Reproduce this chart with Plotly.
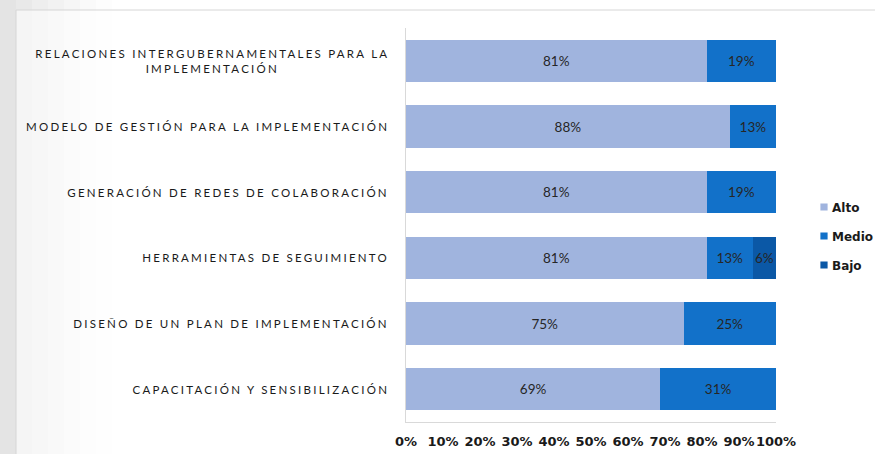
import plotly.graph_objects as go

# categories, top to bottom
categories = [
    "RELACIONES INTERGUBERNAMENTALES PARA LA<br>IMPLEMENTACIÓN",
    "MODELO DE GESTIÓN PARA LA IMPLEMENTACIÓN",
    "GENERACIÓN DE REDES DE COLABORACIÓN",
    "HERRAMIENTAS DE SEGUIMIENTO",
    "DISEÑO DE UN PLAN DE IMPLEMENTACIÓN",
    "CAPACITACIÓN Y SENSIBILIZACIÓN",
]

# percent of responses per level
alto = [81.25, 87.5, 81.25, 81.25, 75.0, 68.75]
medio = [18.75, 12.5, 18.75, 12.5, 25.0, 31.25]
bajo = [0, 0, 0, 6.25, 0, 0]

tick_vals = [0, 10, 20, 30, 40, 50, 60, 70, 80, 90, 100]
tick_text = [f"{v}%" for v in tick_vals]

series = [
    ("Alto", alto, "#A0B4DE"),
    ("Medio", medio, "#1271C9"),
    ("Bajo", bajo, "#0B58A6"),
]

# plot area in pixels (875x454 page)
L, R, T, B = 406, 776, 28, 422
W, H = R - L, B - T


def px_x(p):
    return (p - L) / W


def px_y(p):
    return 1 - (p - T) / H


fig = go.Figure()

for name, vals, color in series:
    fig.add_trace(go.Bar(
        name=name,
        y=categories,
        x=vals,
        orientation="h",
        marker=dict(color=color, line=dict(width=0)),
        text=[v if v > 0 else None for v in vals],
        texttemplate="%{x:.0f}%",
        textposition="inside",
        insidetextanchor="middle",
        textangle=0,
        textfont=dict(family="Lato", size=13.5, color="#262626"),
        constraintext="none",
        legendgroup=name,
        hoverinfo="skip",
    ))

# category labels as annotations so the wrapped line stays centred
for cat in categories:
    fig.add_annotation(
        x=px_x(391), xref="paper", y=cat, yref="y",
        xanchor="right", yanchor="middle", align="center",
        text=cat, showarrow=False,
        font=dict(family="Lato", size=11.5, color="#1a1a1a"),
    )

# slide frame: grey fade on the left, thin border at top and left
shade = ["#e4e4e4", "#e9e9e9", "#eeeeee", "#f2f2f2", "#f6f6f6", "#fafafa", "#fdfdfd"]
for i, c in enumerate(shade):
    fig.add_shape(type="rect", xref="paper", yref="paper", layer="below",
                  x0=px_x(i * 16), x1=px_x((i + 1) * 16), y0=px_y(470), y1=px_y(-5),
                  fillcolor=c, line=dict(width=0))
fig.add_shape(type="rect", xref="paper", yref="paper", layer="below",
              x0=px_x(16), x1=px_x(890), y0=px_y(470), y1=px_y(10),
              fillcolor="rgba(255,255,255,0.55)", line=dict(color="#d6d6d6", width=1))

fig.update_layout(
    width=875,
    height=454,
    margin=dict(l=L, r=875 - R, t=T, b=454 - B, autoexpand=False),
    barmode="stack",
    bargap=0.36,
    paper_bgcolor="white",
    plot_bgcolor="rgba(0,0,0,0)",
    showlegend=True,
    legend=dict(
        x=px_x(792), xanchor="left",
        y=px_y(236), yanchor="middle",
        traceorder="grouped",
        tracegroupgap=10,
        bgcolor="rgba(0,0,0,0)",
        font=dict(family="DejaVu Sans", size=12, color="#1a1a1a", weight="bold"),
        itemwidth=30,
    ),
    xaxis=dict(
        range=[0, 100],
        tickmode="array",
        tickvals=tick_vals,
        ticktext=tick_text,
        tickangle=0,
        ticklabelstandoff=7,
        showgrid=False,
        zeroline=False,
        showline=True,
        linecolor="#d9d9d9",
        ticks="",
        tickfont=dict(family="DejaVu Sans", size=13, color="#1a1a1a", weight="bold"),
        fixedrange=True,
    ),
    yaxis=dict(
        autorange="reversed",
        showticklabels=False,
        showgrid=False,
        showline=True,
        linecolor="#d9d9d9",
        ticks="",
        fixedrange=True,
    ),
)

# no page margin; letter-spaced category labels and small legend squares
post = """
document.body.style.margin = '0';
var gd = document.getElementById('{plot_id}');
function tweak() {
  gd.querySelectorAll('.annotation-text').forEach(function (t) {
    if (t.getAttribute('data-spread')) return;
    var w0 = t.getBBox().width;
    t.style.letterSpacing = '2.25px';
    var w1 = t.getBBox().width;
    t.setAttribute('transform', 'translate(' + (-(w1 - w0) / 2) + ',0)');
    t.setAttribute('data-spread', '1');
  });
  gd.querySelectorAll('.legendpoints path').forEach(function (p) {
    p.setAttribute('transform', 'translate(32,0) scale(0.6)');
  });
}
tweak();
gd.on('plotly_afterplot', tweak);
"""

fig.write_html("out.html", post_script=post, config={"displayModeBar": False})
